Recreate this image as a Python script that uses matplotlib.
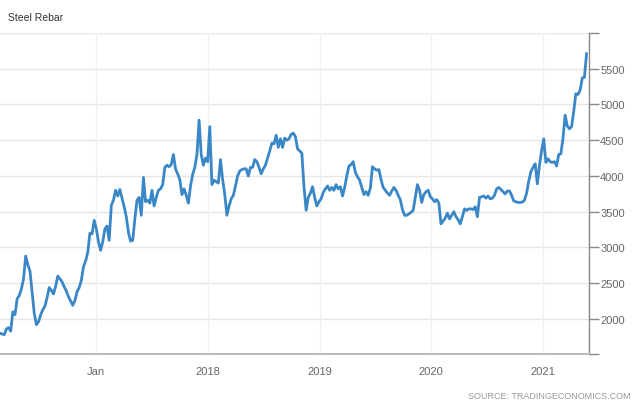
import matplotlib
matplotlib.use("Agg")
import matplotlib.pyplot as plt
import matplotlib.dates as mdates
import pandas as pd

plt.rcParams['font.family'] = ['Liberation Sans', 'DejaVu Sans']

title = "Steel Rebar"
source = "SOURCE: TRADINGECONOMICS.COM"
start_date = "2016-02-21"
freq = "7D"
values = [
    1800, 1790, 1780, 1860, 1880, 1830, 2100, 2060, 2280, 2330,
    2420, 2560, 2880, 2760, 2670, 2380, 2080, 1920, 1960, 2060,
    2130, 2180, 2300, 2440, 2400, 2350, 2460, 2600, 2560, 2520,
    2450, 2390, 2310, 2250, 2190, 2260, 2380, 2440, 2540, 2730,
    2810, 2930, 3200, 3190, 3380, 3260, 3080, 2960, 3080, 3260,
    3300, 3100, 3590, 3660, 3800, 3720, 3810, 3690, 3570, 3430,
    3210, 3090, 3100, 3400, 3660, 3700, 3450, 3980, 3640, 3660,
    3620, 3800, 3580, 3700, 3800, 3820, 3880, 4120, 4150, 4130,
    4160, 4300, 4100, 4030, 3950, 3740, 3820, 3730, 3620, 3860,
    4020, 4120, 4300, 4780, 4300, 4150, 4250, 4200, 4690, 3880,
    3940, 3920, 3900, 4230, 3950, 3740, 3450, 3580, 3680, 3730,
    3860, 4000, 4070, 4090, 4100, 4100, 4000, 4120, 4120, 4230,
    4200, 4120, 4030, 4100, 4150, 4250, 4350, 4460, 4450, 4570,
    4400, 4520, 4400, 4530, 4500, 4520, 4580, 4600, 4550, 4380,
    4350, 4320, 3850, 3520, 3700, 3760, 3850, 3700, 3580, 3640,
    3680, 3770, 3820, 3860, 3800, 3840, 3800, 3880, 3820, 3850,
    3720, 3840, 4000, 4140, 4160, 4200, 4050, 3990, 3940, 3840,
    3740, 3780, 3730, 3830, 4130, 4100, 4080, 4090, 3950, 3840,
    3800, 3760, 3730, 3790, 3840, 3800, 3730, 3670, 3530, 3450,
    3450, 3470, 3490, 3520, 3700, 3880, 3800, 3630, 3740, 3780,
    3800, 3710, 3680, 3640, 3670, 3620, 3330, 3370, 3410, 3480,
    3400, 3450, 3500, 3430, 3390, 3330, 3430, 3540, 3520, 3540,
    3540, 3530, 3570, 3430, 3700, 3710, 3720, 3690, 3720, 3680,
    3690, 3730, 3820, 3840, 3810, 3780, 3750, 3790, 3790, 3730,
    3650, 3640, 3630, 3630, 3635, 3660, 3760, 3930, 4060, 4120,
    4170, 3890, 4150, 4350, 4520, 4190, 4240, 4200, 4190, 4200,
    4140, 4300, 4310, 4530, 4850, 4700, 4660, 4690, 4900, 5150,
    5140, 5200, 5370, 5380, 5710,
]
x_tick_dates = ["2017-01-01", "2018-01-01", "2019-01-01", "2020-01-01", "2021-01-01"]
x_tick_labels = ["Jan", "2018", "2019", "2020", "2021"]
y_ticks = [2000, 2500, 3000, 3500, 4000, 4500, 5000, 5500]
y_grid = [1500, 2000, 2500, 3000, 3500, 4000, 4500, 5000, 5500, 6000]
x_range = ["2016-02-21", "2021-05-31"]
y_range = [1510, 6000]

dates = pd.date_range(start_date, periods=len(values), freq=freq)

fig = plt.figure(figsize=(6.4, 4.02), dpi=100)
ax = fig.add_axes([0.0, 1 - 355 / 402, 589 / 640, (355 - 34) / 402])

for g in y_grid:
    ax.axhline(g, color="#e6e6e6", lw=1.0, zorder=0)
for d in x_tick_dates:
    ax.axvline(pd.Timestamp(d), color="#edf1f4", lw=1.0, zorder=0)

ax.plot(dates, values, color="#3a87c8", lw=2.0, solid_joinstyle="round", zorder=3)

ax.set_xlim(pd.Timestamp(x_range[0]), pd.Timestamp(x_range[1]))
ax.set_ylim(*y_range)

ax.set_xticks([pd.Timestamp(d) for d in x_tick_dates])
ax.set_xticklabels(x_tick_labels)
ax.tick_params(axis="x", length=0, pad=9, labelsize=8, labelcolor="#666666")

ax.yaxis.tick_right()
ax.set_yticks(y_ticks)
ax.set_yticks([1510, 6000], minor=True)
ax.tick_params(axis="y", which="both", direction="out", length=7, width=1.0,
               color="#888888", labelsize=8, labelcolor="#666666", pad=1)
ax.tick_params(axis="y", which="minor", length=7)

for s in ["left", "top"]:
    ax.spines[s].set_visible(False)
ax.spines["right"].set_color("#888888")
ax.spines["right"].set_linewidth(1.0)
ax.spines["bottom"].set_color("#bbbbbb")
ax.spines["bottom"].set_linewidth(1.5)

fig.text(8 / 640, 1 - 18 / 402, title, fontsize=7.5, color="#333333", va="center", ha="left")
fig.text(630 / 640, 1 - 397 / 402, source, fontsize=6.5, color="#999999", va="center", ha="right")

fig.savefig("out.png", dpi=100, facecolor="white")
